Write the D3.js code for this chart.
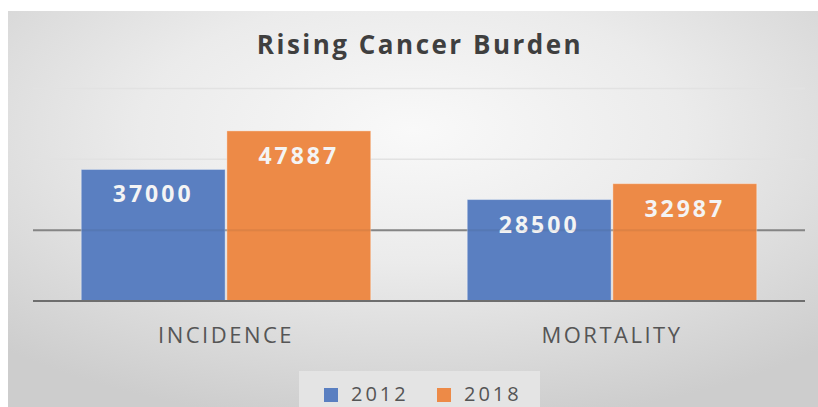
<!DOCTYPE html>
<html>
<head>
<meta charset="utf-8">
<script src="https://cdn.jsdelivr.net/npm/d3@7"></script>
<style>
  html, body { margin: 0; padding: 0; background: #ffffff; }
  svg { display: block; }
</style>
</head>
<body>
<svg id="chart" width="818" height="407"></svg>
<script>
const title = "Rising Cancer Burden";
const categories = ["INCIDENCE", "MORTALITY"];
const seriesNames = ["2012", "2018"];
const values2012 = [37000, 28500];
const values2018 = [47887, 32987];
const yTicks = [0, 20000, 40000, 60000];
const colors = ["#5a7fc1", "#ed8a47"];

const seriesValues = [values2012, values2018];
const data = categories.map((c, i) => ({
  category: c,
  values: seriesNames.map((s, j) => ({ series: s, value: seriesValues[j][i], idx: j }))
}));

const svg = d3.select("#chart");
const W = 818, H = 407;

// background
const defs = svg.append("defs");
const grad = defs.append("radialGradient").attr("id", "bg")
  .attr("cx", "50%").attr("cy", "30%").attr("r", "75%");
grad.append("stop").attr("offset", "0%").attr("stop-color", "#f9f9f9");
grad.append("stop").attr("offset", "45%").attr("stop-color", "#ebebeb");
grad.append("stop").attr("offset", "100%").attr("stop-color", "#cdcdcd");
svg.append("rect").attr("x", 8).attr("y", 11).attr("width", W - 8).attr("height", H - 11)
  .attr("fill", "url(#bg)");

const plotLeft = 33, plotRight = 805, plotBottom = 300.5, plotTop = 88;

const x0 = d3.scaleBand().domain(categories).range([plotLeft, plotRight])
  .paddingInner(0.25).paddingOuter(0.125);
const x1 = d3.scaleBand().domain(seriesNames).range([0, x0.bandwidth()]).paddingInner(0.012);
const y = d3.scaleLinear().domain([0, 60000]).range([plotBottom, plotTop]);

// gridlines (under bars)
const grid = svg.append("g").attr("transform", `translate(${plotLeft},0)`)
  .call(d3.axisLeft(y).tickValues(yTicks).tickSize(-(plotRight - plotLeft)).tickFormat(""));
grid.select(".domain").remove();
grid.selectAll(".tick line")
  .attr("stroke", d => d === 0 ? "#7a7a7a" : (d === 20000 ? "#8e8e8e" : "#e2e2e2"))
  .attr("stroke-width", d => d === 0 ? 2 : (d === 20000 ? 2 : 1.5));

// bars
const groups = svg.append("g").selectAll("g").data(data).join("g")
  .attr("transform", d => `translate(${x0(d.category)},0)`);

groups.selectAll("rect").data(d => d.values).join("rect")
  .attr("x", d => x1(d.series))
  .attr("y", d => y(d.value))
  .attr("width", x1.bandwidth())
  .attr("height", d => y(0) - y(d.value))
  .attr("fill", d => colors[d.idx])
  .attr("stroke", "rgba(255,255,255,0.35)")
  .attr("stroke-width", 1);

// gridlines shown faintly through bars
const gridOver = svg.append("g").attr("transform", `translate(${plotLeft},0)`)
  .call(d3.axisLeft(y).tickValues([0, 20000]).tickSize(-(plotRight - plotLeft)).tickFormat(""));
gridOver.select(".domain").remove();
gridOver.selectAll(".tick line")
  .attr("stroke", d => d === 0 ? "#6e6e6e" : "rgba(40,40,40,0.08)")
  .attr("stroke-width", 2);

// data labels
groups.selectAll("text.val").data(d => d.values).join("text")
  .attr("class", "val")
  .attr("x", d => x1(d.series) + x1.bandwidth() / 2)
  .attr("y", d => y(d.value) + 33)
  .attr("text-anchor", "middle")
  .attr("fill", "#f4f4f4")
  .style("font-family", "'Open Sans', sans-serif")
  .style("font-weight", "700")
  .style("font-size", "23px")
  .style("letter-spacing", "3px")
  .text(d => d.value);

// x axis labels
const xAxis = svg.append("g").attr("transform", `translate(0,${plotBottom})`)
  .call(d3.axisBottom(x0).tickSize(0).tickPadding(0));
xAxis.select(".domain").remove();
xAxis.selectAll("text")
  .attr("y", 42.5).attr("dy", null)
  .attr("fill", "#555555")
  .style("font-family", "'Open Sans', sans-serif")
  .style("font-size", "22px")
  .style("letter-spacing", "2.5px");

// title
svg.append("text")
  .attr("x", 420).attr("y", 54)
  .attr("text-anchor", "middle")
  .attr("fill", "#3f3f3f")
  .style("font-family", "'Open Sans', sans-serif")
  .style("font-weight", "700")
  .style("font-size", "26px")
  .style("letter-spacing", "2.5px")
  .text(title);

// legend
const legend = svg.append("g");
legend.append("rect").attr("x", 299).attr("y", 371).attr("width", 241).attr("height", 36)
  .attr("fill", "#e4e4e4");
const legX = [324, 437];
const items = legend.selectAll("g.item").data(seriesNames).join("g").attr("class", "item")
  .attr("transform", (d, i) => `translate(${legX[i]},0)`);
items.append("rect").attr("x", 0).attr("y", 388).attr("width", 14).attr("height", 14)
  .attr("fill", (d, i) => colors[i]);
items.append("text").attr("x", 27).attr("y", 401)
  .attr("fill", "#555555")
  .style("font-family", "'Open Sans', sans-serif")
  .style("font-size", "20px")
  .style("letter-spacing", "3px")
  .text(d => d);
</script>
</body>
</html>
